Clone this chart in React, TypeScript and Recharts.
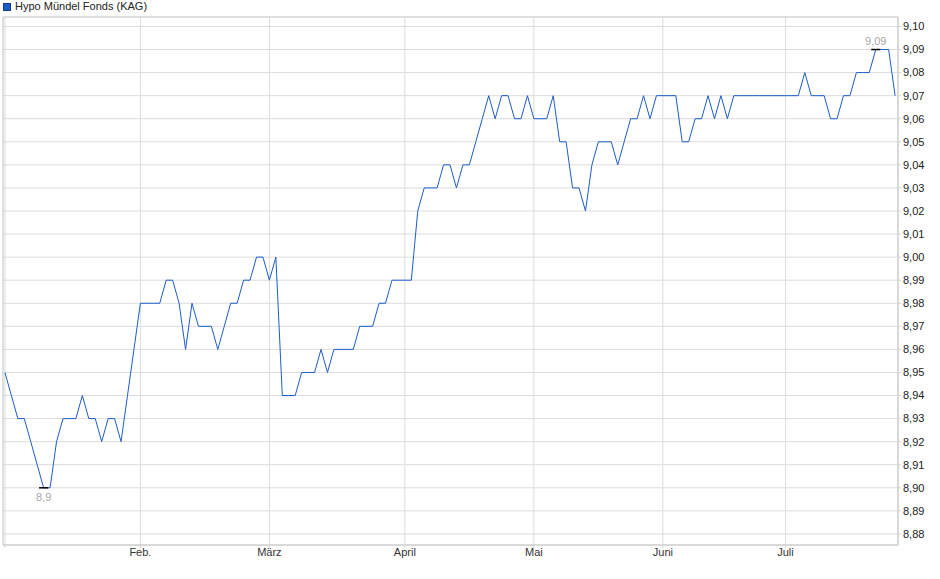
import { LineChart, Line, XAxis, YAxis, CartesianGrid, ReferenceArea, ReferenceLine } from 'recharts';

// daily prices, one value per trading day
const janPrices = [8.95, 8.94, 8.93, 8.93, 8.92, 8.91, 8.90, 8.90, 8.92, 8.93, 8.93, 8.93, 8.94, 8.93, 8.93, 8.92, 8.93, 8.93, 8.92, 8.94, 8.96];
const febPrices = [8.98, 8.98, 8.98, 8.98, 8.99, 8.99, 8.98, 8.96, 8.98, 8.97, 8.97, 8.97, 8.96, 8.97, 8.98, 8.98, 8.99, 8.99, 9.00, 9.00];
const marPrices = [8.99, 9.00, 8.94, 8.94, 8.94, 8.95, 8.95, 8.95, 8.96, 8.95, 8.96, 8.96, 8.96, 8.96, 8.97, 8.97, 8.97, 8.98, 8.98, 8.99, 8.99];
const aprPrices = [8.99, 8.99, 9.02, 9.03, 9.03, 9.03, 9.04, 9.04, 9.03, 9.04, 9.04, 9.05, 9.06, 9.07, 9.06, 9.07, 9.07, 9.06, 9.06, 9.07];
const mayPrices = [9.06, 9.06, 9.06, 9.07, 9.05, 9.05, 9.03, 9.03, 9.02, 9.04, 9.05, 9.05, 9.05, 9.04, 9.05, 9.06, 9.06, 9.07, 9.06, 9.07];
const junPrices = [9.07, 9.07, 9.07, 9.05, 9.05, 9.06, 9.06, 9.07, 9.06, 9.07, 9.06, 9.07, 9.07, 9.07, 9.07, 9.07, 9.07, 9.07, 9.07];
const julPrices = [9.07, 9.07, 9.07, 9.08, 9.07, 9.07, 9.07, 9.06, 9.06, 9.07, 9.07, 9.08, 9.08, 9.08, 9.09, 9.09, 9.09, 9.07];

const monthStarts = [0, 21, 41, 62, 82, 102, 121];
const monthLabels = ['', 'Feb.', 'März', 'April', 'Mai', 'Juni', 'Juli'];
const priceTicks = [8.88, 8.89, 8.90, 8.91, 8.92, 8.93, 8.94, 8.95, 8.96, 8.97, 8.98, 8.99, 9.00, 9.01, 9.02, 9.03, 9.04, 9.05, 9.06, 9.07, 9.08, 9.09, 9.10];
const seriesName = 'Hypo Mündel Fonds (KAG)';

const prices = [...janPrices, ...febPrices, ...marPrices, ...aprPrices, ...mayPrices, ...junPrices, ...julPrices];
const data = prices.map((price, i) => ({ day: i, price }));

const FONT = '"Liberation Sans", Arial, sans-serif';
const LINE_COLOR = '#1c5cc8';
const GRID = '#dcdcdc';
const X_DOMAIN = [-0.3, prices.length - 1 + 0.45];
const Y_DOMAIN = [8.8752, 9.1041];

const minVal = Math.min(...prices);
const maxVal = Math.max(...prices);
const minIdx = prices.indexOf(minVal);
const maxIdx = prices.indexOf(maxVal);
const fmt = (v: number) => String(v).replace('.', ',');

export default function App() {
  return (
    <div style={{ position: 'absolute', left: 0, top: 0, width: 940, height: 579, fontFamily: FONT }}>
      {/* legend */}
      <div style={{ position: 'absolute', left: 3, top: 0, display: 'flex', alignItems: 'center', fontSize: 11, lineHeight: '13px', color: '#222' }}>
        <span style={{ display: 'inline-block', width: 6, height: 6, background: LINE_COLOR, border: '1px solid #16388a', marginRight: 4 }} />
        {seriesName}
      </div>
      <LineChart width={940} height={579} data={data} margin={{ top: 17, right: 2, bottom: 4, left: 3 }}>
        <CartesianGrid stroke={GRID} verticalPoints={undefined} />
        <ReferenceArea x1={X_DOMAIN[0]} x2={X_DOMAIN[1]} y1={Y_DOMAIN[0]} y2={Y_DOMAIN[1]} fill="none" stroke="#d2d2d2" />
        <XAxis
          type="number"
          dataKey="day"
          domain={X_DOMAIN}
          allowDataOverflow
          ticks={monthStarts}
          interval={0}
          tickFormatter={(v: number) => monthLabels[monthStarts.indexOf(v)] ?? ''}
          height={30}
          tickSize={3}
          tickMargin={0}
          axisLine={{ stroke: '#d2d2d2' }}
          tickLine={{ stroke: '#d2d2d2' }}
          tick={{ fontSize: 11, fill: '#333', fontFamily: FONT }}
        />
        <YAxis
          orientation="right"
          type="number"
          domain={Y_DOMAIN}
          allowDataOverflow
          ticks={priceTicks}
          interval={0}
          tickFormatter={(v: number) => v.toFixed(2).replace('.', ',')}
          width={40}
          tickSize={3}
          tickMargin={2}
          axisLine={{ stroke: '#d2d2d2' }}
          tickLine={{ stroke: '#d2d2d2' }}
          tick={{ fontSize: 11, fill: '#222', fontFamily: FONT, textAnchor: 'start' }}
        />
        <Line
          type="linear"
          dataKey="price"
          name={seriesName}
          stroke={LINE_COLOR}
          strokeWidth={1}
          dot={false}
          activeDot={false}
          isAnimationActive={false}
        />
        <ReferenceLine
          segment={[{ x: minIdx - 0.7, y: minVal }, { x: minIdx + 0.7, y: minVal }]}
          stroke="#000"
          strokeWidth={1.5}
          label={{ value: fmt(minVal), position: 'bottom', fill: '#a8a8a8', fontSize: 11, fontFamily: FONT }}
        />
        <ReferenceLine
          segment={[{ x: maxIdx - 0.7, y: maxVal }, { x: maxIdx + 0.7, y: maxVal }]}
          stroke="#000"
          strokeWidth={1.5}
          label={{ value: fmt(maxVal), position: 'top', fill: '#a8a8a8', fontSize: 11, fontFamily: FONT }}
        />
      </LineChart>
    </div>
  );
}
